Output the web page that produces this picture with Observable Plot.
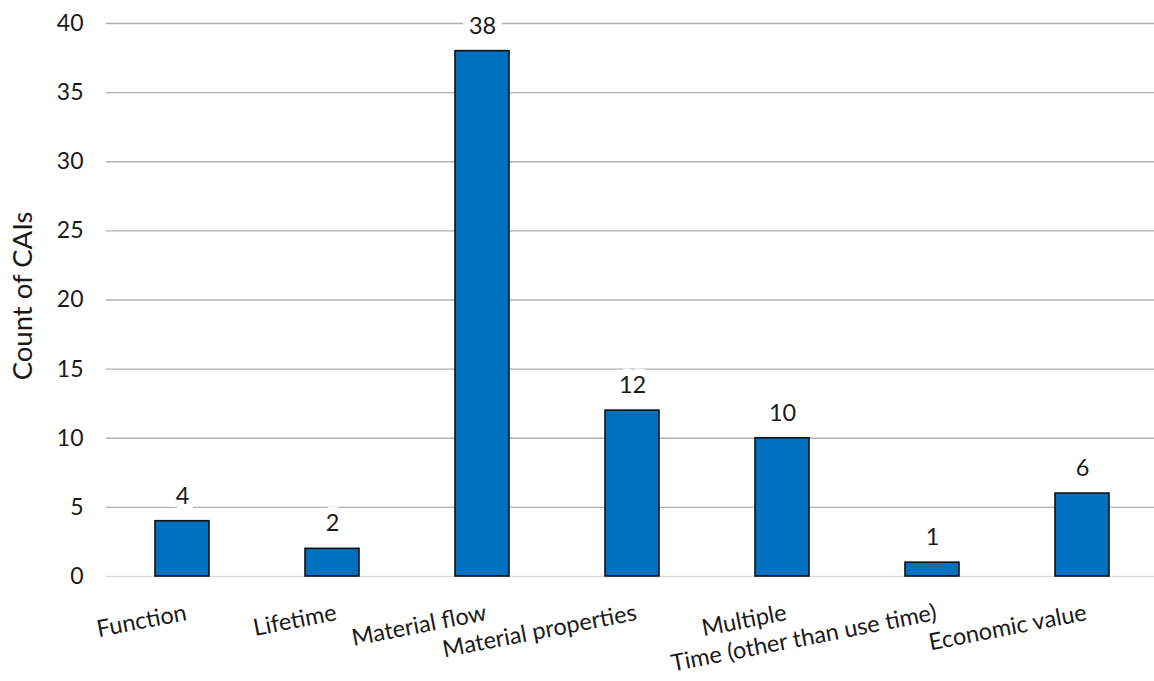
<!DOCTYPE html>
<html>
<head>
<meta charset="utf-8">
<script src="https://cdn.jsdelivr.net/npm/d3@7"></script>
<script src="https://cdn.jsdelivr.net/npm/@observablehq/plot@0.6"></script>
<style>
  html, body { margin: 0; padding: 0; background: #fff; }
  #chart svg { display: block; }
</style>
</head>
<body>
<div id="chart"></div>
<script>
const categories = [
  "Function",
  "Lifetime",
  "Material flow",
  "Material properties",
  "Multiple",
  "Time (other than use time)",
  "Economic value"
];
const counts = [4, 2, 38, 12, 10, 1, 6];
const yTicks = [0, 5, 10, 15, 20, 25, 30, 35, 40];
const yLabel = "Count of CAIs";

const data = categories.map((c, i) => ({category: c, count: counts[i]}));
const ink = "#1a1a1a";

const chart = Plot.plot({
  width: 1154,
  height: 681,
  marginLeft: 106,
  marginRight: 0,
  marginTop: 23,
  marginBottom: 105,
  style: {fontFamily: "Lato, 'Open Sans', sans-serif", fontSize: "23px", color: ink, background: "white"},
  x: {domain: categories, range: [106, 1158], paddingInner: 0.64, paddingOuter: 0.32, axis: null},
  y: {domain: [0, 40], axis: null},
  marks: [
    Plot.ruleY(yTicks.filter(d => d > 0), {stroke: "#b0b0b0", strokeWidth: 1.4}),
    Plot.ruleY([0], {stroke: "#d9d9d9", strokeWidth: 1.4}),
    Plot.barY(data, {x: "category", y: "count", fill: "#0070C0", stroke: "#111", strokeWidth: 1.6}),
    Plot.text(data, {
      x: "category", y: "count", text: d => String(d.count),
      dy: -25, fill: ink, stroke: "white", strokeWidth: 15,
      paintOrder: "stroke", fontSize: 23.5
    }),
    Plot.axisY({ticks: yTicks, tickSize: 0, tickPadding: 23, fontSize: 23, label: null, fill: ink}),
    Plot.text(data, {
      x: "category", text: "category", frameAnchor: "bottom",
      rotate: -11, textAnchor: "end", lineAnchor: "top",
      dy: 27, dx: 2, fontSize: 23.5, fill: ink
    }),
    Plot.text([yLabel], {
      text: d => d, frameAnchor: "left", rotate: -90,
      dx: -83, dy: -4, fontSize: 27.5, textAnchor: "middle", fill: ink
    })
  ]
});
document.getElementById("chart").append(chart);
</script>
</body>
</html>
